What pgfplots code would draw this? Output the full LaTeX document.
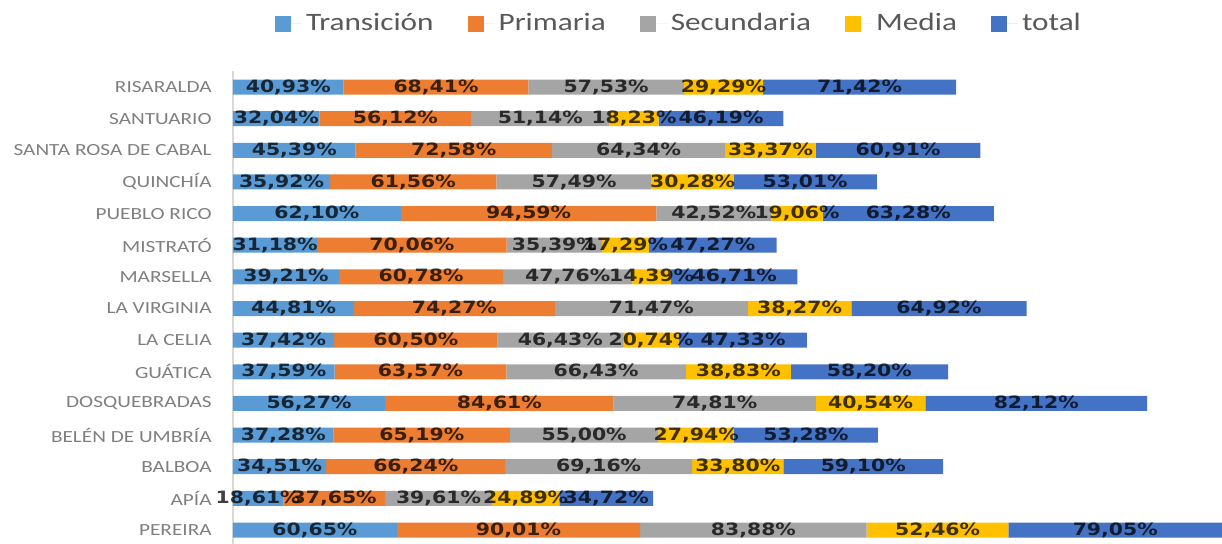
\documentclass[border=0pt]{standalone}
\usepackage{fontspec}
\setmainfont{Carlito}[FakeStretch=1.25]
\newfontfamily\lblfont{DejaVu Sans}[FakeStretch=1.2]
\usepackage{pgfplots}
\usepackage{pgfplotstable}
\pgfplotsset{compat=1.18}
\definecolor{cT}{HTML}{5B9BD5}
\definecolor{cP}{HTML}{ED7D31}
\definecolor{cS}{HTML}{A5A5A5}
\definecolor{cM}{HTML}{FFC000}
\definecolor{cTot}{HTML}{4472C4}
\definecolor{lblgray}{HTML}{7F7F7F}
\definecolor{leggray}{HTML}{595959}
\pgfplotstableread{
y t p s m tot
0 60.65 90.01 83.88 52.46 79.05
1 18.61 37.65 39.61 24.89 34.72
2 34.51 66.24 69.16 33.80 59.10
3 37.28 65.19 55.00 27.94 53.28
4 56.27 84.61 74.81 40.54 82.12
5 37.59 63.57 66.43 38.83 58.20
6 37.42 60.50 46.43 20.74 47.33
7 44.81 74.27 71.47 38.27 64.92
8 39.21 60.78 47.76 14.39 46.71
9 31.18 70.06 35.39 17.29 47.27
10 62.10 94.59 42.52 19.06 63.28
11 35.92 61.56 57.49 30.28 53.01
12 45.39 72.58 64.34 33.37 60.91
13 32.04 56.12 51.14 18.23 46.19
14 40.93 68.41 57.53 29.29 71.42
}\datatable
\newcommand\seg[2]{\addplot[fill=#2, draw=none, point meta=explicit]
  table[x=#1, y=y, meta=#1] {\datatable};}
\begin{document}
\begin{tikzpicture}
\begin{axis}[
  at={(116.5pt,-1.41pt)}, anchor=south west,
  x=1.351pt, y=15.82pt,
  xmin=0, xmax=366.05, ymin=-0.5, ymax=14.5,
  xbar stacked, bar width=7.5pt,
  axis x line=none,
  axis y line*=left,
  y axis line style={draw=black!15, line width=0.6pt},
  major tick length=0pt,
  ytick={0,...,14},
  yticklabels={PEREIRA, APÍA, BALBOA, BELÉN DE UMBRÍA, DOSQUEBRADAS, GUÁTICA, LA CELIA, LA VIRGINIA, MARSELLA, MISTRATÓ, PUEBLO RICO, QUINCHÍA, SANTA ROSA DE CABAL, SANTUARIO, RISARALDA},
  yticklabel style={font=\fontsize{8.5}{10}\selectfont, text=lblgray, inner sep=0pt, xshift=-10.5pt},
  nodes near coords={\pgfmathprintnumber[fixed,fixed zerofill,precision=2,use comma,assume math mode=true]{\pgfplotspointmeta}\%},
  every node near coord/.append style={anchor=center,
    font=\lblfont\bfseries\fontsize{8.5}{10}\selectfont, text=black, text opacity=0.75, inner sep=0pt},
  legend columns=5,
  legend style={draw=none, fill=none, at={(0.0425,1.1)}, anchor=west, inner sep=0pt, outer sep=0pt,
    font=\fontsize{12.5}{15}\selectfont, text=leggray,
    /tikz/every even column/.append style={column sep=15pt}},
  legend image code/.code={\fill[#1] (0pt,-4pt) rectangle (8pt,4pt); \path (0pt,0pt) -- (13.5pt,0pt);},
  clip=false,
]
\seg{t}{cT}
\seg{p}{cP}
\seg{s}{cS}
\seg{m}{cM}
\seg{tot}{cTot}
\legend{Transición, Primaria, Secundaria, Media, total}
\end{axis}
\pgfresetboundingbox
\useasboundingbox (0,0) rectangle (611pt,271.5pt);
\end{tikzpicture}
\end{document}
